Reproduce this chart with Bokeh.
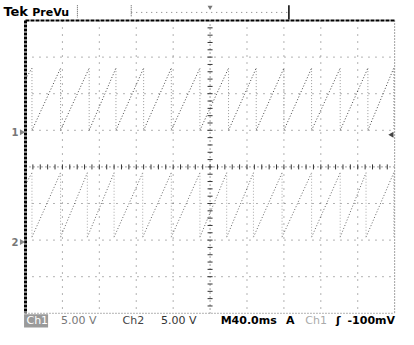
from bokeh.plotting import figure
from bokeh.models import Range1d, Label
from bokeh.embed import file_html
from bokeh.resources import INLINE

# ---------------- data ----------------
time_per_div_ms = 40.0
volts_per_div = 5.0
n_xdiv = 10
n_ydiv = 8

ch1_position_div = 1.0
ch2_position_div = -2.0

# sawtooth reset (drop) instants, ms from left edge of graticule
ch1_drop_ms = [7, 38, 69, 98, 128, 158, 189, 220, 250, 280, 310, 341, 371, 399]
ch1_low_v = 0.0
ch1_high_v = 8.5
ch1_start_v = 7.0

ch2_drop_ms = [7, 38, 67, 96, 127, 158, 189, 218, 247, 278, 310, 341, 369, 399]
ch2_low_v = 0.4
ch2_high_v = 9.2
ch2_start_v = 7.6

trigger_pos_ms = 200.0
trigger_level_v = -0.1

# ---------------- layout helpers ----------------
W, H = 398, 329
REF_W, REF_H = 414, 345
SX, SY = W / REF_W, H / REF_H
fx_left, fx_right = 26 * SX, 410 * SX
fy_top, fy_bot = 21 * SY, 328 * SY
x_span = n_xdiv * time_per_div_ms
ms_per_px = x_span / (fx_right - fx_left)
div_per_px = n_ydiv / (fy_bot - fy_top)
x_start = -fx_left * ms_per_px
x_end = x_start + W * ms_per_px
y_end = n_ydiv / 2 + fy_top * div_per_px
y_start = y_end - H * div_per_px


def DX(rx):
    return x_start + rx * SX * ms_per_px


def DY(ry):
    return y_end - ry * SY * div_per_px


p = figure(width=W, height=H, output_backend="svg", toolbar_location=None,
           x_range=Range1d(x_start, x_end), y_range=Range1d(y_start, y_end),
           min_border=0, min_border_left=0, min_border_right=0,
           min_border_top=0, min_border_bottom=0)
p.axis.visible = False
p.grid.visible = False
p.outline_line_color = None
p.background_fill_color = "white"
p.border_fill_color = "white"

x0, x1 = 0.0, x_span
y0, y1 = -n_ydiv / 2, n_ydiv / 2

# ---------------- graticule ----------------
gx = [k * time_per_div_ms for k in range(1, n_xdiv) if k != n_xdiv // 2]
gy = [k for k in range(-n_ydiv // 2 + 1, n_ydiv // 2) if k != 0]
p.multi_line(xs=[[x, x] for x in gx], ys=[[y1, y0] for _ in gx],
             line_color="#666666", line_width=1, line_dash="1 6")
p.multi_line(xs=[[x0, x1] for _ in gy], ys=[[y, y] for y in gy],
             line_color="#666666", line_width=1, line_dash="1 6")

xc = n_xdiv // 2 * time_per_div_ms
p.line([xc, xc], [y1, y0], line_color="#444444", line_width=1, line_dash="1 3")
p.line([x0, x1], [0, 0], line_color="#444444", line_width=1, line_dash="1 3")
# minor ticks on centre lines (every 1/5 division)
tx = [i * time_per_div_ms / 5 for i in range(1, n_xdiv * 5)]
ty = [i / 5 - n_ydiv / 2 for i in range(1, n_ydiv * 5)]
tick_px = 2.5
tk = tick_px * div_per_px
tkx = tick_px * ms_per_px
p.segment(x0=tx, y0=[-tk] * len(tx), x1=tx, y1=[tk] * len(tx),
          line_color="#333333", line_width=1)
p.segment(x0=[xc - tkx] * len(ty), y0=ty, x1=[xc + tkx] * len(ty), y1=ty,
          line_color="#333333", line_width=1)

# borders
p.line([x0, x0], [y1, y0], line_color="black", line_width=3, line_dash="3 1")
p.line([x0, x1], [y1, y1], line_color="black", line_width=2, line_dash="4 1")
p.line([x1, x1], [y1, y0], line_color="#444444", line_width=1, line_dash="1 2")
p.line([x0, x1], [y0, y0], line_color="#666666", line_width=1, line_dash="1 2")


# ---------------- traces ----------------
def to_div(v, pos):
    return pos + v / volts_per_div


def trace(drops, low, high, start, pos, color_ramp, color_drop):
    rx, ry, dx_, dy_ = [], [], [], []
    rx.append([0.0, drops[0]])
    ry.append([to_div(start, pos), to_div(high, pos)])
    for a, b in zip(drops[:-1], drops[1:]):
        rx.append([a, b])
        ry.append([to_div(low, pos), to_div(high, pos)])
    for d in drops:
        dx_.append([d, d])
        dy_.append([to_div(high, pos), to_div(low, pos)])
    p.multi_line(xs=rx, ys=ry, line_color=color_ramp, line_width=1, line_dash="1 2")
    p.multi_line(xs=dx_, ys=dy_, line_color=color_drop, line_width=1, line_dash="1 2")


trace(ch1_drop_ms, ch1_low_v, ch1_high_v, ch1_start_v, ch1_position_div, "#444444", "#999999")
trace(ch2_drop_ms, ch2_low_v, ch2_high_v, ch2_start_v, ch2_position_div, "#666666", "#aaaaaa")

# ground markers
for label, pos in (("1", ch1_position_div), ("2", ch2_position_div)):
    p.add_layout(Label(x=DX(15), y=pos - 0.05, text=label, text_font="DejaVu Sans",
                       text_font_size="10px", text_font_style="bold", text_color="#777777",
                       text_align="center", text_baseline="middle"))
    p.scatter([DX(22)], [pos - 0.05], marker="triangle", angle=-1.5708, size=6,
              fill_color="#888888", line_color=None)

# trigger level marker (right) and trigger position marker (top)
p.scatter([DX(407)], [to_div(trigger_level_v, ch1_position_div) - 0.1], marker="triangle",
          angle=1.5708, size=6, fill_color="#444444", line_color=None)
p.scatter([trigger_pos_ms], [DY(7)], marker="inverted_triangle", size=5,
          fill_color="#777777", line_color=None)

# ---------------- top bar ----------------
p.add_layout(Label(x=DX(3), y=DY(12), text="Tek", text_font="DejaVu Sans", text_font_size="13px",
                   text_font_style="bold", text_color="black", text_baseline="middle"))
p.add_layout(Label(x=DX(33), y=DY(12.5), text="PreVu", text_font="DejaVu Sans", text_font_size="11px",
                   text_font_style="bold", text_color="black", text_baseline="middle"))
p.line([DX(80), DX(80)], [DY(5), DY(18)], line_color="#555555", line_width=1, line_dash="1 1")
p.line([DX(136), DX(136)], [DY(5), DY(17)], line_color="#555555", line_width=1, line_dash="1 1")
p.line([DX(136), DX(300)], [DY(12.5), DY(12.5)], line_color="#777777", line_width=1, line_dash="1 4")
p.line([DX(300), DX(300)], [DY(5), DY(20)], line_color="black", line_width=1.5)

# ---------------- bottom status line ----------------
yb = DY(336)
p.rect([DX(37)], [yb], width=DX(50) - DX(25), height=DY(329) - DY(343),
       fill_color="#9a9a9a", line_color=None)
status = [
    (27, "Ch1", "normal", "white"),
    (63, "5.00 V", "normal", "#777777"),
    (127, "Ch2", "normal", "#444444"),
    (167, "5.00 V", "normal", "#333333"),
    (229, "M40.0ms", "bold", "black"),
    (297, "A", "bold", "black"),
    (317, "Ch1", "normal", "#aaaaaa"),
    (349, "ʃ", "bold", "black"),
    (361, "-100mV", "bold", "black"),
]
for rx, txt, style, col in status:
    p.add_layout(Label(x=DX(rx), y=yb, text=txt, text_font="DejaVu Sans", text_font_size="11px",
                       text_font_style=style, text_color=col, text_baseline="middle"))

open("out.html", "w").write(file_html(p, INLINE))
